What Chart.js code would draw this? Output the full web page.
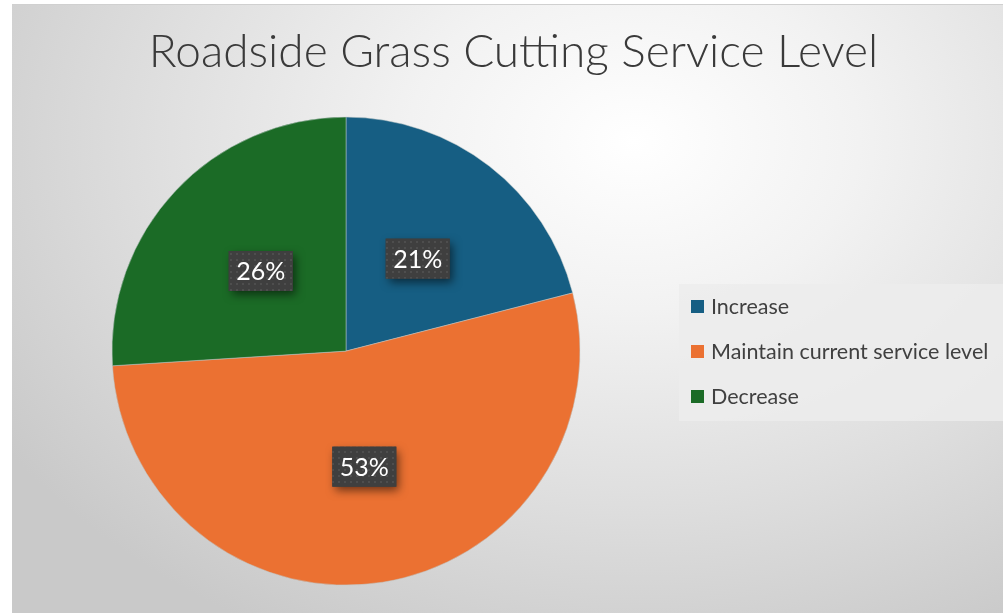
<!DOCTYPE html>
<html>
<head>
<meta charset="utf-8">
<script src="https://cdn.jsdelivr.net/npm/chart.js@4/dist/chart.umd.min.js"></script>
<style>
  html, body { margin: 0; padding: 0; background: #fff; overflow: hidden; width: 1003px; height: 613px; }
  #frame {
    position: absolute; left: 12px; top: 4px; width: 1003px; height: 620px;
    border-top: 1px solid #d0d0d0;
    background: radial-gradient(ellipse 75% 90% at 62% 22%, #ffffff 0%, #f2f2f2 30%, #dedede 65%, #c9c9c9 100%);
  }
  #frame canvas { position: absolute; left: 0; top: 0; }
</style>
</head>
<body>
<div id="frame"><canvas id="pieChart" width="1003" height="620"></canvas></div>
<script>
const titleText = 'Roadside Grass Cutting Service Level';
const labels = ['Increase', 'Maintain current service level', 'Decrease'];
const values = [21, 53, 26];
const colors = ['#165e83', '#eb7132', '#1b6b26'];

// dotted fill for the data label boxes
function dotPattern(ctx) {
    const c = document.createElement('canvas');
    c.width = 6; c.height = 6;
    const p = c.getContext('2d');
    p.fillStyle = '#3f3f3f';
    p.fillRect(0, 0, 6, 6);
    p.fillStyle = '#4e4e4e';
    p.fillRect(2, 2, 2, 2);
    return ctx.createPattern(c, 'repeat');
}

// keep room on the right for the legend without moving the title
const legendRoom = {
    id: 'legendRoom',
    afterLayout(chart) {
        const a = chart.chartArea;
        a.right -= 335;
        a.width = a.right - a.left;
    }
};

const labelBoxes = {
    id: 'labelBoxes',
    afterDatasetsDraw(chart) {
        const ctx = chart.ctx;
        const meta = chart.getDatasetMeta(0);
        const total = values.reduce((a, b) => a + b, 0);
        ctx.save();
        ctx.font = '25px Lato';
        meta.data.forEach((arc, i) => {
            const pt = arc.tooltipPosition();
            const txt = Math.round(values[i] / total * 100) + '%';
            const w = 64, h = 40;
            ctx.save();
            ctx.shadowColor = 'rgba(0,0,0,0.55)';
            ctx.shadowBlur = 9;
            ctx.shadowOffsetX = 3;
            ctx.shadowOffsetY = 4;
            ctx.fillStyle = '#3f3f3f';
            ctx.fillRect(pt.x - w / 2, pt.y - h / 2, w, h);
            ctx.restore();
            ctx.fillStyle = dotPattern(ctx);
            ctx.fillRect(pt.x - w / 2, pt.y - h / 2, w, h);
            ctx.fillStyle = '#ffffff';
            ctx.textAlign = 'center';
            ctx.textBaseline = 'middle';
            ctx.fillText(txt, pt.x, pt.y + 1);
        });
        ctx.restore();
    }
};

// legend drawn in its own light box on the right
const sideLegend = {
    id: 'sideLegend',
    afterDraw(chart) {
        const ctx = chart.ctx;
        const x0 = 667, y0 = 279, w = 340, h = 137;
        ctx.save();
        ctx.fillStyle = 'rgba(236,236,236,0.85)';
        ctx.fillRect(x0, y0, w, h);
        ctx.font = '21.5px Lato';
        ctx.textBaseline = 'middle';
        chart.data.labels.forEach((lab, i) => {
            const cy = y0 + 23 + i * 45;
            ctx.fillStyle = chart.data.datasets[0].backgroundColor[i];
            ctx.fillRect(x0 + 12, cy - 7, 13, 13);
            ctx.fillStyle = '#404040';
            ctx.fillText(lab, x0 + 32, cy);
        });
        ctx.restore();
    }
};

const config = {
    type: 'pie',
    data: {
        labels: labels,
        datasets: [{
            data: values,
            backgroundColor: colors,
            borderColor: 'rgba(190,200,200,0.5)',
            borderWidth: 1
        }]
    },
    options: {
        responsive: false,
        animation: false,
        radius: 234,
        layout: { padding: { left: 0, right: 0, top: 0, bottom: 3 } },
        plugins: {
            legend: { display: false },
            tooltip: { enabled: false },
            title: {
                display: true,
                text: titleText,
                color: '#3a3a3a',
                font: { family: 'Lato', size: 46, weight: '300', lineHeight: 1.2 },
                padding: { top: 20, bottom: 0 }
            }
        }
    },
    plugins: [legendRoom, labelBoxes, sideLegend]
};

window.onload = function() {
    const ctx = document.getElementById('pieChart').getContext('2d');
    window.pieChart = new Chart(ctx, config);
};
</script>
</body>
</html>
